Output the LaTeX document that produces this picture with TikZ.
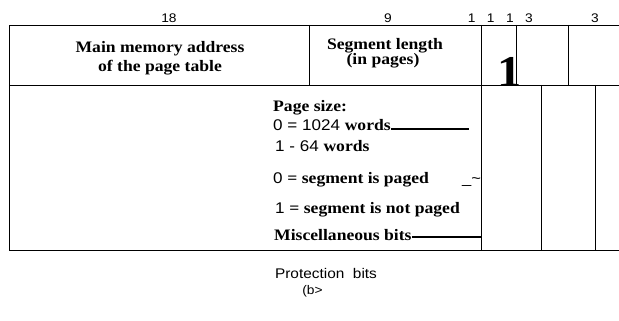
\documentclass[tikz,border=0pt]{standalone}
\usepackage{fontspec}
\setmainfont{Liberation Serif}[FakeStretch=1.1]
\setsansfont{Liberation Sans}[FakeStretch=1.1]
\begin{document}
\begin{tikzpicture}[x=1pt,y=-1pt,
  frame/.style={line width=0.9pt},
  lead/.style={line width=1.1pt},
  bitnum/.style={font=\sffamily\fontsize{12.5}{14}\selectfont, anchor=base, inner sep=0},
  head/.style={font=\bfseries\fontsize{16}{18}\selectfont, anchor=base, inner sep=0},
  desc/.style={font=\fontsize{16}{18}\selectfont, anchor=base west, inner sep=0},
  captext/.style={font=\sffamily\fontsize{14}{16}\selectfont, anchor=base, inner sep=0}]
\useasboundingbox (0,0) rectangle (619,321);
% frame
\draw[frame] (619,25) -- (9,25) -- (9,250) -- (619,250);
\draw[frame] (9,85) -- (619,85);
\draw[frame] (309,25) -- (309,85);
\draw[frame] (481,25) -- (481,250);
\draw[frame] (516.7,25) -- (516.7,85);
\draw[frame] (568.7,25) -- (568.7,85);
\draw[frame] (541.7,85) -- (541.7,250);
\draw[frame] (595,85) -- (595,250);
% bit counts
\node[bitnum] (n18) at (169,23) {18};
\node[bitnum] (n9) at (388,23) {9};
\node[bitnum] (na) at (471.7,23) {1};
\node[bitnum] (nb) at (490.7,23) {1};
\node[bitnum] (nc) at (510,23) {1};
\node[bitnum] (nd) at (529,23) {3};
\node[bitnum] (ne) at (595,23) {3};
% headers
\node[head] (h1) at (160,53) {Main memory address};
\node[head] (h2) at (160,72) {of the page table};
\node[head] (h3) at (385,50) {Segment length};
\node[head] (h4) at (383,65) {(in pages)};
\node[font=\bfseries\fontsize{44}{46}\selectfont, anchor=base, inner sep=0] (big) at (510,87) {1};
% descriptions
\node[desc] (ps) at (273,112) {\bfseries Page size:};
\node[desc] (w1) at (273,130) {\sffamily\fontsize{15.5}{18}\selectfont 0 = 1024 \rmfamily\fontsize{16}{18}\selectfont\bfseries words};
\node[desc] (w2) at (275,151.5) {\sffamily\fontsize{15.5}{18}\selectfont 1 - 64 \rmfamily\fontsize{16}{18}\selectfont\bfseries words};
\node[desc] (s0) at (273,183) {\sffamily\fontsize{15.5}{18}\selectfont 0 \rmfamily\fontsize{16}{18}\selectfont\bfseries = segment is paged};
\node[desc, font=\sffamily\fontsize{15}{17}\selectfont] (tl) at (462,183) {\_\textasciitilde};
\node[desc] (s1) at (275,213) {\sffamily\fontsize{15.5}{18}\selectfont 1 \rmfamily\fontsize{16}{18}\selectfont\bfseries = segment is not paged};
\node[desc] (mb) at (274,240) {\bfseries Miscellaneous bits};
\coordinate (w1end) at (469,129);
\coordinate (mbend) at (481,237);
\draw[lead] (w1.east |- w1end) -- (w1end);
\draw[lead] (mb.east |- mbend) -- (mbend);
% caption
\node[captext] (pb) at (326,278) {Protection\ \ bits};
\node[captext, font=\sffamily\fontsize{12.5}{14}\selectfont] (fb) at (312.5,294.5) {(b>};
\end{tikzpicture}
\end{document}
